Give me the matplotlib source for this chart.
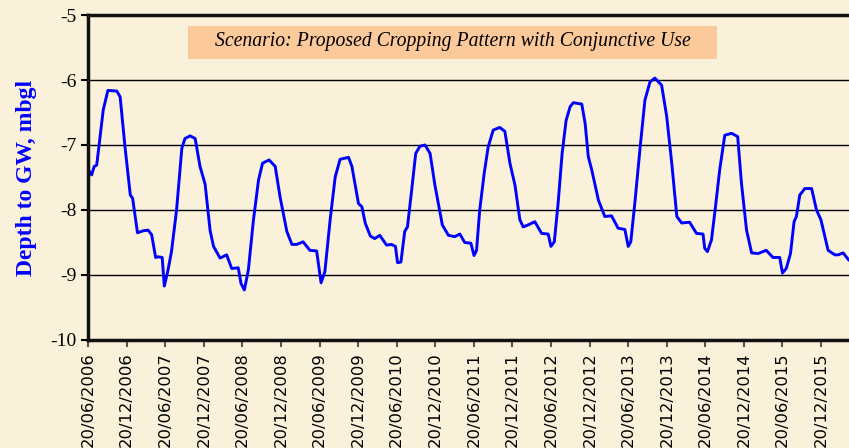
import matplotlib
matplotlib.use("Agg")
import matplotlib.pyplot as plt
import pandas as pd

# depth to groundwater (mbgl, negative = below ground)
dates = [
    "2006-06-21", "2006-07-07", "2006-07-19", "2006-07-31", "2006-08-16", "2006-08-31",
    "2006-09-22", "2006-11-03", "2006-11-19", "2006-12-12", "2007-01-06", "2007-01-17",
    "2007-02-09", "2007-03-08", "2007-03-31", "2007-04-17", "2007-05-06", "2007-05-18",
    "2007-06-06", "2007-06-16", "2007-07-02", "2007-07-20", "2007-08-13", "2007-09-07",
    "2007-09-22", "2007-10-16", "2007-11-09", "2007-12-02", "2007-12-26", "2008-01-19",
    "2008-02-04", "2008-03-06", "2008-04-06", "2008-04-30", "2008-05-31", "2008-06-13",
    "2008-06-29", "2008-07-18", "2008-08-11", "2008-09-04", "2008-09-23", "2008-10-24",
    "2008-11-22", "2008-12-15", "2009-01-16", "2009-02-09", "2009-03-03", "2009-04-03",
    "2009-05-05", "2009-06-06", "2009-06-27", "2009-07-15", "2009-08-09", "2009-09-02",
    "2009-09-25", "2009-11-04", "2009-11-20", "2009-12-21", "2010-01-06", "2010-01-22",
    "2010-02-15", "2010-03-08", "2010-04-01", "2010-05-03", "2010-05-26", "2010-06-14",
    "2010-06-24", "2010-07-10", "2010-07-28", "2010-08-10", "2010-08-30", "2010-09-18",
    "2010-10-08", "2010-11-01", "2010-11-25", "2010-12-18", "2011-01-22", "2011-02-20",
    "2011-03-22", "2011-04-15", "2011-05-08", "2011-06-06", "2011-06-21", "2011-07-03",
    "2011-07-18", "2011-08-08", "2011-08-27", "2011-09-20", "2011-10-21", "2011-11-14",
    "2011-12-08", "2012-01-01", "2012-01-24", "2012-02-09", "2012-03-03", "2012-04-04",
    "2012-05-06", "2012-06-06", "2012-06-19", "2012-07-05", "2012-07-23", "2012-08-11",
    "2012-08-30", "2012-09-18", "2012-10-03", "2012-11-12", "2012-11-28", "2012-12-13",
    "2012-12-29", "2013-01-30", "2013-03-01", "2013-04-02", "2013-05-03", "2013-06-04",
    "2013-06-20", "2013-07-02", "2013-07-21", "2013-08-14", "2013-09-07", "2013-10-01",
    "2013-10-24", "2013-11-25", "2013-12-19", "2014-01-12", "2014-02-05", "2014-02-28",
    "2014-03-30", "2014-04-07", "2014-05-09", "2014-06-09", "2014-06-17", "2014-06-30",
    "2014-07-19", "2014-08-07", "2014-08-27", "2014-09-20", "2014-10-22", "2014-11-20",
    "2014-12-08", "2015-01-01", "2015-01-25", "2015-02-25", "2015-04-04", "2015-05-06",
    "2015-06-07", "2015-06-20", "2015-07-08", "2015-07-28", "2015-08-14", "2015-08-25",
    "2015-09-10", "2015-10-04", "2015-11-05", "2015-11-28", "2015-12-19", "2016-01-07",
    "2016-01-22", "2016-02-23", "2016-03-10", "2016-04-02", "2016-04-29", "2016-05-15",
]
depth = [
    -7.38, -7.46, -7.33, -7.31, -6.87, -6.46,
    -6.16, -6.17, -6.26, -7.03, -7.77, -7.82,
    -8.35, -8.32, -8.31, -8.38, -8.73, -8.72,
    -8.73, -9.17, -8.95, -8.64, -8.00, -7.05,
    -6.90, -6.86, -6.90, -7.33, -7.60, -8.32,
    -8.56, -8.74, -8.69, -8.90, -8.89, -9.13,
    -9.23, -8.92, -8.15, -7.54, -7.28, -7.23,
    -7.33, -7.80, -8.33, -8.53, -8.53, -8.49,
    -8.62, -8.63, -9.12, -8.95, -8.15, -7.49,
    -7.22, -7.19, -7.33, -7.90, -7.95, -8.20,
    -8.40, -8.44, -8.39, -8.54, -8.53, -8.56,
    -8.81, -8.80, -8.33, -8.26, -7.69, -7.13,
    -7.02, -7.00, -7.13, -7.62, -8.23, -8.39,
    -8.41, -8.37, -8.50, -8.51, -8.70, -8.62,
    -8.00, -7.44, -7.03, -6.77, -6.73, -6.79,
    -7.28, -7.62, -8.15, -8.26, -8.23, -8.18,
    -8.36, -8.37, -8.56, -8.49, -7.90, -7.13,
    -6.62, -6.41, -6.35, -6.37, -6.67, -7.18,
    -7.38, -7.85, -8.10, -8.09, -8.28, -8.30,
    -8.56, -8.49, -7.90, -7.08, -6.31, -6.03,
    -5.97, -6.08, -6.56, -7.28, -8.10, -8.20,
    -8.19, -8.19, -8.36, -8.37, -8.59, -8.64,
    -8.46, -7.95, -7.38, -6.85, -6.82, -6.87,
    -7.59, -8.31, -8.66, -8.67, -8.62, -8.73,
    -8.73, -8.97, -8.90, -8.67, -8.18, -8.10,
    -7.77, -7.67, -7.67, -8.00, -8.15, -8.41,
    -8.62, -8.69, -8.69, -8.66, -8.77, -8.80,
]
tick_labels = []
for yr in range(2006, 2016):
    tick_labels += [f"20/06/{yr}", f"20/12/{yr}"]
yticks = [-10, -9, -8, -7, -6, -5]
title_text = "Scenario: Proposed Cropping Pattern with Conjunctive Use"

bg = "#FAF1DA"
fig = plt.figure(figsize=(8.49, 4.48), dpi=100, facecolor=bg)
ax = fig.add_axes([0.1037, 0.2411, 0.909, 0.7254])
ax.set_facecolor(bg)

x = pd.to_datetime(dates)
ax.plot(x, depth, color="#0000FF", lw=2.1, solid_joinstyle="round")

ax.set_ylim(-10, -5)
ax.set_yticks(yticks)
ax.set_yticklabels([str(v) for v in yticks], fontfamily="Liberation Serif", fontsize=14)
ax.yaxis.grid(True, color="black", lw=1)
ax.set_axisbelow(True)

tick_dates = pd.to_datetime(tick_labels, format="%d/%m/%Y")
ax.set_xlim(pd.Timestamp("2006-06-20"), pd.Timestamp("2016-06-20"))
ax.set_xticks(tick_dates)
ax.set_xticklabels(tick_labels, rotation=90, fontfamily="DejaVu Sans", fontsize=11.8)
ax.tick_params(axis="x", length=5, width=1.5, color="#555555", pad=4)
ax.tick_params(axis="y", length=5, width=1.5, color="black", pad=3)

for s in ["left", "bottom", "top"]:
    ax.spines[s].set_linewidth(2.5)
    ax.spines[s].set_color("#111111")
ax.spines["right"].set_visible(False)

ax.set_ylabel("Depth to GW, mbgl", color="#0000FF", fontfamily="Liberation Serif",
              fontweight="bold", fontsize=17, labelpad=10)

# peach scenario box
ax.add_patch(plt.Rectangle((0.1295, 0.8646), 0.6853, 0.1014, transform=ax.transAxes,
                           facecolor="#FCC99B", edgecolor="none", zorder=3))
ax.text(0.4728, 0.917, title_text, transform=ax.transAxes, ha="center", va="center",
        fontfamily="Liberation Serif", fontstyle="italic", fontsize=14.2, zorder=4)

fig.savefig("out.png", dpi=100, facecolor=bg)
